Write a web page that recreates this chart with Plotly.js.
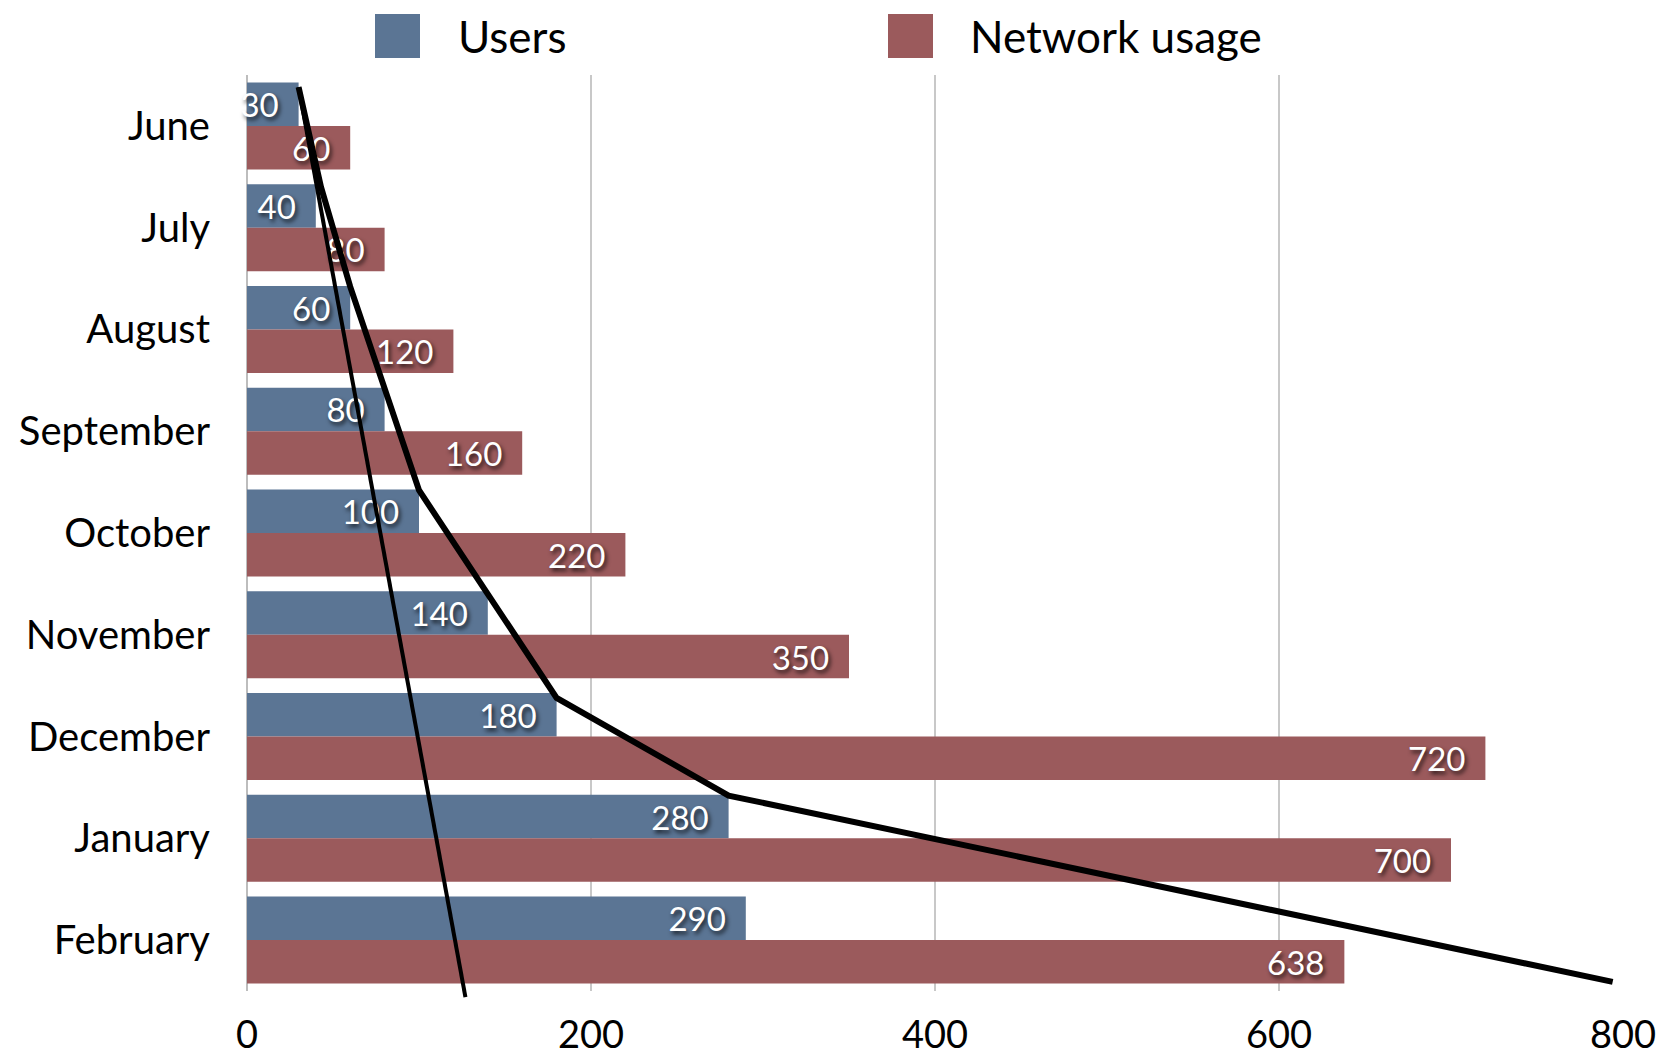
<!DOCTYPE html>
<html>
<head>
<meta charset="utf-8">
<script src="https://cdn.plot.ly/plotly-3.0.1.min.js"></script>
<style>
  html, body { margin: 0; padding: 0; background: #ffffff; }
  #chart { width: 1669px; height: 1063px; }
</style>
</head>
<body>
<div id="chart"></div>
<script>
// ---- data ----
const months = ["June", "July", "August", "September", "October", "November", "December", "January", "February"];
const users = [30, 40, 60, 80, 100, 140, 180, 280, 290];
const networkUsage = [60, 80, 120, 160, 220, 350, 720, 700, 638];
const seriesNames = ["Users", "Network usage"];
const xTicks = [0, 200, 400, 600, 800];

// hand-drawn overlay lines (x in value units, y in category-index units)
const trendLineX = [30, 127];
const trendLineY = [-0.38, 8.56];
const usersLineX = [30, 43, 60, 80, 100, 140, 180, 280, 794];
const usersLineY = [-0.38, 0.6, 1.58, 2.58, 3.58, 4.6, 5.62, 6.58, 8.41];

// ---- styles ----
const FONT = "Lato, 'Open Sans', sans-serif";
const BLUE = "#5b7594";
const RED = "#9b5a5c";
const W = 1669, H = 1063;
const M = {l: 247, r: 46, t: 75, b: 52};
const plotH = H - M.t - M.b;        // 936
const extra = 20;                    // px below main plot for overlay lines
const mainH = plotH - extra;         // 916
const pxPerCat = mainH / months.length;

const labelFont = {family: FONT, size: 33, color: "#ffffff", shadow: "2px 3px 4px rgba(0,0,0,0.75)"};

function barTrace(name, values, color) {
  return {
    type: "bar", orientation: "h", name: name,
    y: months, x: values,
    marker: {color: color},
    text: values.map(v => String(v)),
    texttemplate: "%{text}\u00a0\u00a0",
    textposition: "inside", insidetextanchor: "end",
    constraintext: "none",
    textfont: labelFont,
    cliponaxis: false,
    hoverinfo: "x+y",
    showlegend: false
  };
}

const traces = [
  barTrace(seriesNames[0], users, BLUE),
  barTrace(seriesNames[1], networkUsage, RED),
  {
    type: "scatter", mode: "lines",
    x: trendLineX, y: trendLineY,
    xaxis: "x2", yaxis: "y2",
    line: {color: "#000000", width: 4},
    hoverinfo: "skip", showlegend: false
  },
  {
    type: "scatter", mode: "lines",
    x: usersLineX, y: usersLineY,
    xaxis: "x2", yaxis: "y2",
    line: {color: "#000000", width: 6, shape: "linear"},
    hoverinfo: "skip", showlegend: false
  }
];

// plot area width in px for paper-coordinate conversion of the custom legend
const plotW = W - M.l - M.r;
const px2paperX = px => (px - M.l) / plotW;
const px2paperY = py => 1 - (py - M.t) / plotH;

const legendItems = [
  {name: seriesNames[0], color: BLUE, sx0: 375, sx1: 420, tx: 456},
  {name: seriesNames[1], color: RED, sx0: 888, sx1: 933, tx: 968}
];

const shapes = legendItems.map(it => ({
  type: "rect", xref: "paper", yref: "paper",
  x0: px2paperX(it.sx0), x1: px2paperX(it.sx1),
  y0: px2paperY(58), y1: px2paperY(14),
  fillcolor: it.color, line: {width: 0}
}));

const annotations = legendItems.map(it => ({
  xref: "paper", yref: "paper",
  x: px2paperX(it.tx), y: px2paperY(36),
  xanchor: "left", yanchor: "middle",
  text: it.name, showarrow: false,
  font: {family: FONT, size: 44, color: "#000000"}
}));

const layout = {
  width: W, height: H,
  margin: M,
  paper_bgcolor: "#ffffff",
  plot_bgcolor: "rgba(0,0,0,0)",
  barmode: "group",
  bargap: 0.145,
  bargroupgap: 0,
  showlegend: false,
  uniformtext: {mode: "show", minsize: 33},
  font: {family: FONT, color: "#000000"},
  xaxis: {
    range: [0, 800],
    tickvals: xTicks,
    ticktext: xTicks.map(String),
    showgrid: true, gridcolor: "#c8c8c8", gridwidth: 1.5,
    zeroline: true, zerolinecolor: "#bdbdbd", zerolinewidth: 2,
    showline: false, ticks: "",
    ticklabelstandoff: 18,
    tickfont: {family: FONT, size: 38, color: "#000000"},
    fixedrange: true
  },
  yaxis: {
    type: "category",
    categoryorder: "array", categoryarray: months,
    range: [months.length - 0.5, -0.5],
    domain: [extra / plotH, 1],
    showgrid: false, zeroline: false, showline: false, ticks: "",
    ticklabelstandoff: 36,
    tickfont: {family: FONT, size: 40, color: "#000000"},
    fixedrange: true
  },
  xaxis2: {
    range: [0, 800], domain: [0, 1], anchor: "y2",
    visible: false, showgrid: false, zeroline: false, fixedrange: true
  },
  yaxis2: {
    range: [-0.5 + plotH / pxPerCat, -0.5], domain: [0, 1], anchor: "x2",
    visible: false, showgrid: false, zeroline: false, fixedrange: true
  },
  shapes: shapes,
  annotations: annotations
};

Plotly.newPlot("chart", traces, layout, {displayModeBar: false, staticPlot: true});
</script>
</body>
</html>
